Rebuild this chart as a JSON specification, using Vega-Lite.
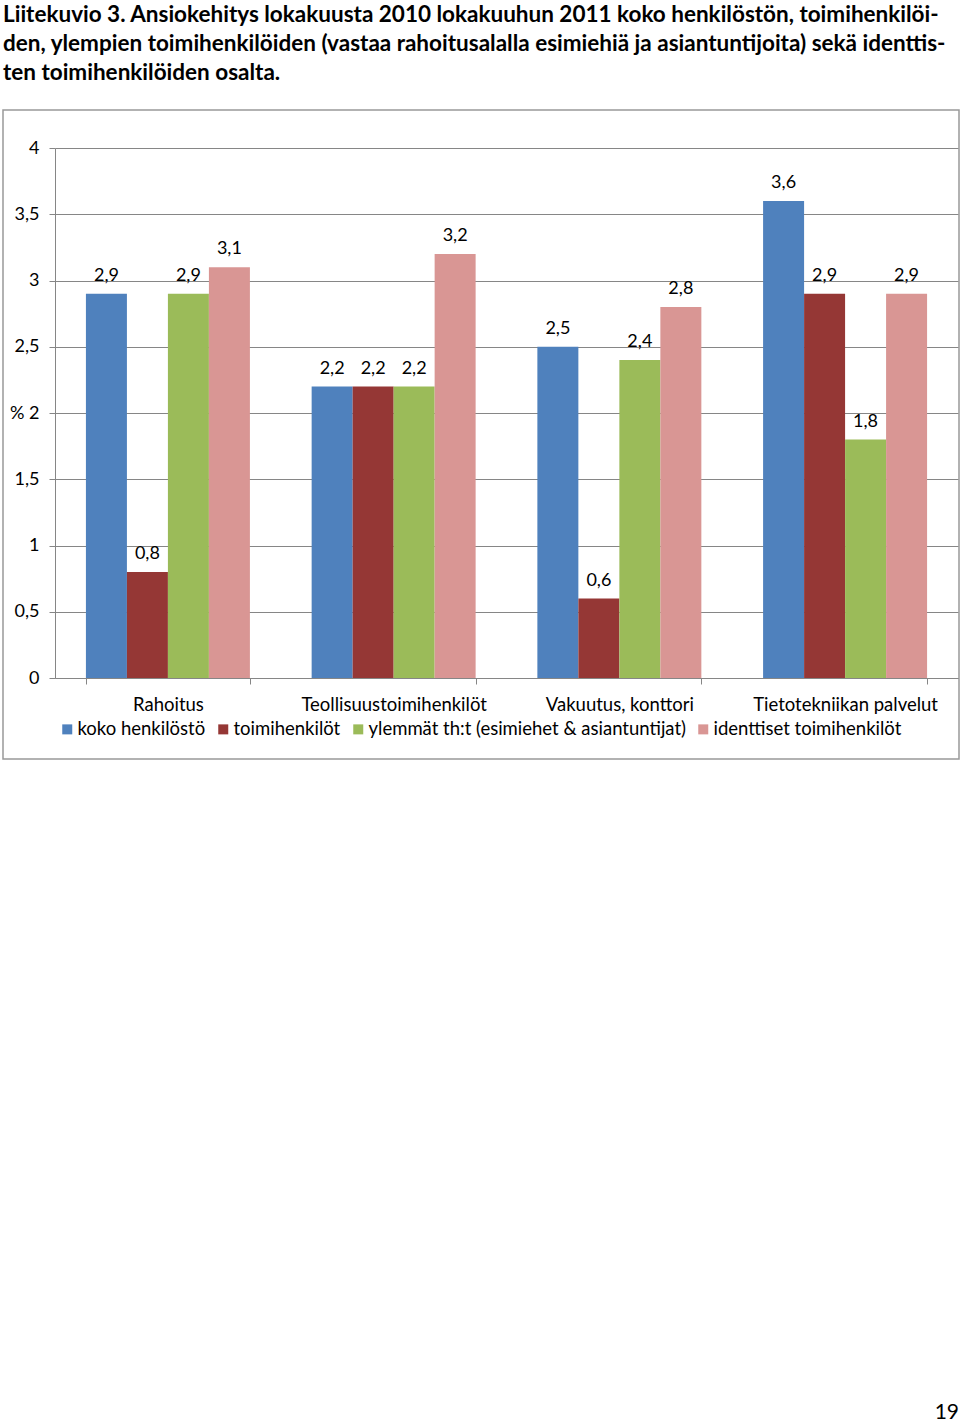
{
  "$schema": "https://vega.github.io/schema/vega-lite/v6.json",
  "padding": {"left": 2, "right": 1, "top": 2, "bottom": 0},
  "config": {
    "locale": {"number": {"decimal": ",", "thousands": "\u00a0", "grouping": [3], "currency": ["", "\u00a0€"]}},
    "view": {"stroke": null},
    "font": "Lato",
    "axis": {"labelFont": "Lato", "labelColor": "#000000", "domainColor": "#868686", "tickColor": "#868686", "gridColor": "#868686"},
    "legend": {"labelFont": "Lato", "labelColor": "#000000"}
  },
  "spacing": 0,
  "vconcat": [
    {
      "width": 956,
      "height": 649,
      "view": {"stroke": "#999999", "strokeWidth": 1.5},
      "title": {
        "text": [
          "Liitekuvio 3. Ansiokehitys lokakuusta 2010 lokakuuhun 2011 koko henkilöstön, toimihenkilöi-",
          "den, ylempien toimihenkilöiden (vastaa rahoitusalalla esimiehiä ja asiantuntijoita) sekä identtis-",
          "ten toimihenkilöiden osalta."
        ],
        "anchor": "start",
        "frame": "group",
        "fontSize": 22.5,
        "font": "Lato",
        "fontWeight": "bold",
        "lineHeight": 29,
        "color": "#000000",
        "offset": 26
      },
      "data": {
        "values": [
          {"ala": "Rahoitus", "ryhma": "koko henkilöstö", "arvo": 2.9},
          {"ala": "Rahoitus", "ryhma": "toimihenkilöt", "arvo": 0.8},
          {"ala": "Rahoitus", "ryhma": "ylemmät th:t (esimiehet & asiantuntijat)", "arvo": 2.9},
          {"ala": "Rahoitus", "ryhma": "identtiset toimihenkilöt", "arvo": 3.1},
          {"ala": "Teollisuustoimihenkilöt", "ryhma": "koko henkilöstö", "arvo": 2.2},
          {"ala": "Teollisuustoimihenkilöt", "ryhma": "toimihenkilöt", "arvo": 2.2},
          {"ala": "Teollisuustoimihenkilöt", "ryhma": "ylemmät th:t (esimiehet & asiantuntijat)", "arvo": 2.2},
          {"ala": "Teollisuustoimihenkilöt", "ryhma": "identtiset toimihenkilöt", "arvo": 3.2},
          {"ala": "Vakuutus, konttori", "ryhma": "koko henkilöstö", "arvo": 2.5},
          {"ala": "Vakuutus, konttori", "ryhma": "toimihenkilöt", "arvo": 0.6},
          {"ala": "Vakuutus, konttori", "ryhma": "ylemmät th:t (esimiehet & asiantuntijat)", "arvo": 2.4},
          {"ala": "Vakuutus, konttori", "ryhma": "identtiset toimihenkilöt", "arvo": 2.8},
          {"ala": "Tietotekniikan palvelut", "ryhma": "koko henkilöstö", "arvo": 3.6},
          {"ala": "Tietotekniikan palvelut", "ryhma": "toimihenkilöt", "arvo": 2.9},
          {"ala": "Tietotekniikan palvelut", "ryhma": "ylemmät th:t (esimiehet & asiantuntijat)", "arvo": 1.8},
          {"ala": "Tietotekniikan palvelut", "ryhma": "identtiset toimihenkilöt", "arvo": 2.9}
        ]
      },
      "encoding": {
        "x": {
          "field": "ala",
          "type": "nominal",
          "sort": null,
          "scale": {"range": [52, 955], "paddingInner": 0.2735, "paddingOuter": 0.137},
          "axis": {
            "title": null,
            "orient": "bottom",
            "offset": -81,
            "labelAngle": 0,
            "labelFontSize": 18.5,
            "labelPadding": 11,
            "labelLimit": 400,
            "tickSize": 6,
            "tickBand": "extent",
            "domainWidth": 1,
            "labelBound": false,
            "labelOverlap": false
          }
        },
        "xOffset": {
          "field": "ryhma",
          "type": "nominal",
          "sort": ["koko henkilöstö", "toimihenkilöt", "ylemmät th:t (esimiehet & asiantuntijat)", "identtiset toimihenkilöt"],
          "scale": {"paddingInner": 0, "paddingOuter": 0}
        },
        "y": {
          "field": "arvo",
          "type": "quantitative",
          "scale": {"domain": [0, 4], "range": [568, 38], "nice": false},
          "axis": {
            "title": null,
            "offset": -52,
            "values": [0, 0.5, 1, 1.5, 2, 2.5, 3, 3.5, 4],
            "labelExpr": "datum.value == 2 ? '% 2' : format(datum.value, '~g')",
            "labelFontSize": 18,
            "labelPadding": 10,
            "tickSize": 6,
            "grid": true,
            "gridWidth": 1,
            "domain": true
          }
        }
      },
      "layer": [
        {
          "mark": {"type": "bar"},
          "encoding": {
            "color": {
              "field": "ryhma",
              "type": "nominal",
              "sort": ["koko henkilöstö", "toimihenkilöt", "ylemmät th:t (esimiehet & asiantuntijat)", "identtiset toimihenkilöt"],
              "scale": {"range": ["#4F81BD", "#953735", "#9BBB59", "#D99694"]},
              "legend": {
                "title": null,
                "orient": "none",
                "direction": "horizontal",
                "legendX": 55,
                "legendY": 610,
                "symbolType": "square",
                "symbolSize": 100,
                "symbolStrokeWidth": 0,
                "labelFontSize": 18.5,
                "labelOffset": 1,
                "columnPadding": 8,
                "labelLimit": 500
              }
            }
          }
        },
        {
          "mark": {"type": "text", "baseline": "alphabetic", "dy": -13, "fontSize": 18, "font": "Lato", "color": "#000000"},
          "encoding": {
            "text": {"field": "arvo", "type": "quantitative", "format": ".1f"}
          }
        }
      ]
    },
    {
      "width": 956,
      "height": 642,
      "data": {"values": []},
      "mark": "point",
      "title": {
        "text": "19",
        "orient": "bottom",
        "anchor": "end",
        "frame": "group",
        "fontSize": 21,
        "font": "Lato",
        "fontWeight": "normal",
        "color": "#000000",
        "offset": 0
      }
    }
  ]
}
